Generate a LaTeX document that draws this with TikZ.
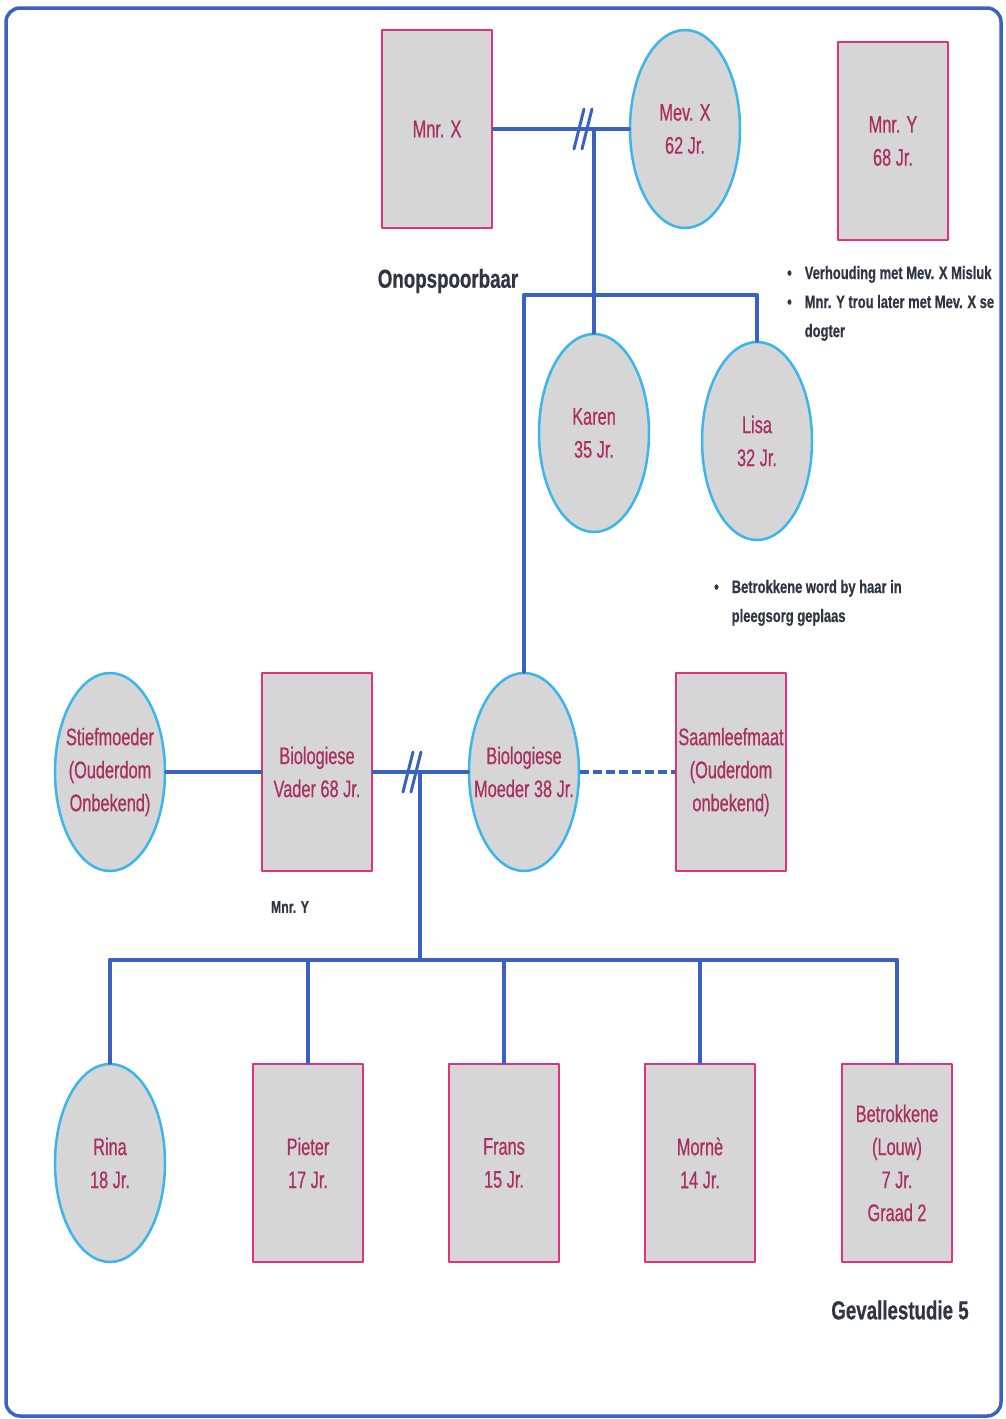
\documentclass[tikz,border=0pt]{standalone}
\usepackage{fontspec}
\setmainfont{Liberation Sans}
\newfontfamily\namefont[FakeStretch=0.68,FakeBold=0.6]{Liberation Sans}
\newfontfamily\notefont[FakeStretch=0.72,FakeBold=0.6]{Liberation Sans}
\usepackage{tikz}
\usetikzlibrary{shapes.geometric}

\definecolor{cardgray}{HTML}{D6D6D6}
\definecolor{boxpink}{HTML}{E0307E}
\definecolor{ringblue}{HTML}{3AB6EA}
\definecolor{linkblue}{HTML}{3B62BE}
\definecolor{nametxt}{HTML}{A9305E}
\definecolor{notetxt}{HTML}{2F3542}

\tikzset{
  person/.style={fill=cardgray, minimum width=110pt, minimum height=198pt, align=center,
    text=nametxt, font=\namefont\fontsize{24}{33}\selectfont},
  male/.style={person, draw=boxpink, line width=2.5pt, inner sep=0pt},
  female/.style={person, ellipse, draw=ringblue, line width=2.5pt, inner xsep=-25pt, inner ysep=0pt},
  link/.style={draw=linkblue, line width=4pt},
  note/.style={text=notetxt, inner sep=0pt, font=\notefont\bfseries\fontsize{18}{29}\selectfont}
}

\begin{document}
\begin{tikzpicture}[line cap=round,line join=round,x=1pt,y=-1pt]
		\useasboundingbox (0,0) rectangle (1005,1419);
		\draw [draw=linkblue, line width=3.5pt, rounded corners=14pt] (6,8) rectangle (1001,1416);
		% grootouers
		\node[male] (mnrX) at (437,129) {Mnr. X};
		\node[female] (mevX) at (685,129) {Mev. X\\62 Jr.};
		\node[male] (mnrY) at (893,141) {Mnr. Y\\68 Jr.};
		\node[female] (karen) at (594,433) {Karen\\35 Jr.};
		\node[female] (lisa) at (757,441) {Lisa\\32 Jr.};
		% ouers
		\node[female] (stief) at (110,772) {Stiefmoeder\\(Ouderdom\\Onbekend)};
		\node[male] (vader) at (317,772) {Biologiese\\Vader 68 Jr.};
		\node[female] (moeder) at (524,772) {Biologiese\\Moeder 38 Jr.};
		\node[male] (saam) at (731,772) {Saamleefmaat\\(Ouderdom\\onbekend)};
		% kinders
		\node[female] (rina) at (110,1163) {Rina\\18 Jr.};
		\node[male] (pieter) at (308,1163) {Pieter\\17 Jr.};
		\node[male] (frans) at (504,1163) {Frans\\15 Jr.};
		\node[male] (morne) at (700,1163) {Mornè\\14 Jr.};
		\node[male] (betr) at (897,1163) {Betrokkene\\(Louw)\\7 Jr.\\Graad 2};
		% notas
		\node[note, font=\notefont\bfseries\fontsize{26}{30}\selectfont] (lost) at (448,281) {Onopspoorbaar};
		\node[note, anchor=base west] (noteY) at (787,279) {\begin{tabular}[t]{@{}l@{\hspace{13pt}}l@{}}
			\textbullet & Verhouding met Mev. X Misluk\\
			\textbullet & Mnr. Y trou later met Mev. X se\\
			& dogter
		\end{tabular}};
		\node[note, anchor=base west] (noteL) at (714,593) {\begin{tabular}[t]{@{}l@{\hspace{13pt}}l@{}}
			\textbullet & Betrokkene word by haar in\\
			& pleegsorg geplaas
		\end{tabular}};
		\node[note, font=\notefont\bfseries\fontsize{17}{20}\selectfont] (mnrYlbl) at (290,907) {Mnr. Y};
		\node[note, font=\notefont\bfseries\fontsize{26}{30}\selectfont] (study) at (900,1310) {Gevallestudie 5};
		% lyne
		\coordinate (sib) at (0,295);
		\coordinate (kids) at (420,960);
		\coordinate (splitA) at (583,129);
		\coordinate (splitB) at (412,772);
		\draw [link] (mnrX) -- (mevX);
		\draw [link] (karen.north |- mevX.west) -- (karen.north);
		\draw [link] (moeder.north) -- (moeder.north |- sib) -- (lisa.north |- sib) -- (lisa.north);
		\draw [link] (stief) -- (vader);
		\draw [link] (vader) -- (moeder);
		\draw [link, line cap=butt, dash pattern=on 9pt off 4pt] (moeder) -- (saam);
		\draw [link] (kids |- vader.east) -- (kids);
		\draw [link] (rina.north |- kids) -- (betr.north |- kids);
		\foreach \k in {rina,pieter,frans,morne,betr}
			\draw [link] (\k.north |- kids) -- (\k.north);
		\foreach \s in {-4,4} {
			\draw [link, line width=3pt] ([shift={({\s-5},20)}]splitA) -- ([shift={({\s+5},-20)}]splitA);
			\draw [link, line width=3pt] ([shift={({\s-5},20)}]splitB) -- ([shift={({\s+5},-20)}]splitB);
		}
\end{tikzpicture}
\end{document}
